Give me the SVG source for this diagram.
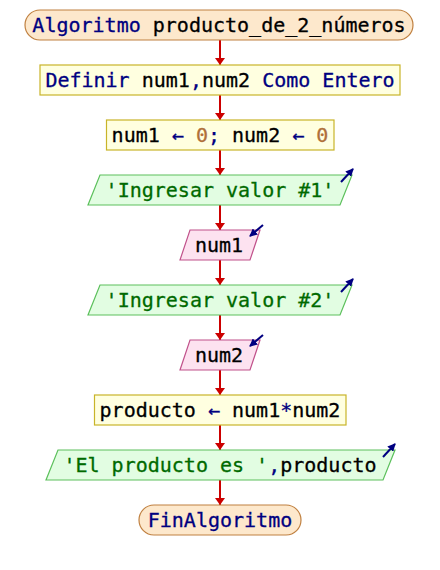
<svg xmlns="http://www.w3.org/2000/svg" width="440" height="570" viewBox="0 0 440 570">
  <defs>
    <marker id="flow" viewBox="0 0 7 10" refX="7" refY="5" markerWidth="7" markerHeight="10" markerUnits="userSpaceOnUse" orient="auto">
      <path d="M0,0 L7,5 L0,10 Z" fill="#cc0000"/>
    </marker>
    <marker id="io" viewBox="0 0 8 8" refX="7" refY="4" markerWidth="8" markerHeight="8" markerUnits="userSpaceOnUse" orient="auto">
      <path d="M0,0 L8,4 L0,8 Z" fill="#000080"/>
    </marker>
    <style>
      .t { font-family: "DejaVu Sans Mono", "Liberation Mono", monospace; font-size: 20px; text-anchor: middle; fill: #000000; stroke: #000000; stroke-width: 0.3; }
      .kw { fill: #000080; stroke: #000080; }
      .str { fill: #006a00; stroke: #006a00; }
      .num { fill: #b0703a; stroke: #b0703a; }
      .term { fill: #fde8cc; stroke: #c08040; stroke-width: 1.2; }
      .proc { fill: #ffffe0; stroke: #c8b428; stroke-width: 1.2; }
      .out { fill: #e2fde2; stroke: #5cc05c; stroke-width: 1.2; }
      .in { fill: #fde2f0; stroke: #c0508a; stroke-width: 1.2; }
      .edge { stroke: #cc0000; stroke-width: 2; fill: none; marker-end: url(#flow); }
      .ioarrow { stroke: #000080; stroke-width: 2; fill: none; marker-end: url(#io); }
    </style>
  </defs>
  <rect width="440" height="570" fill="#ffffff"/>

  <g id="connectors">
    <line class="edge" x1="220" y1="40" x2="220" y2="65"/>
    <line class="edge" x1="220" y1="95" x2="220" y2="120"/>
    <line class="edge" x1="220" y1="150" x2="220" y2="175"/>
    <line class="edge" x1="220" y1="205" x2="220" y2="230"/>
    <line class="edge" x1="220" y1="260" x2="220" y2="285"/>
    <line class="edge" x1="220" y1="315" x2="220" y2="340"/>
    <line class="edge" x1="220" y1="370" x2="220" y2="395"/>
    <line class="edge" x1="220" y1="425" x2="220" y2="450"/>
    <line class="edge" x1="220" y1="480" x2="220" y2="505"/>
  </g>

  <g id="start">
    <rect class="term" x="25" y="10" width="388" height="30" rx="15" ry="15"/>
    <text class="t" x="219" y="32"><tspan class="kw">Algoritmo</tspan> producto_de_2_números</text>
  </g>

  <g id="define">
    <rect class="proc" x="40" y="65" width="360" height="30"/>
    <text class="t" x="220" y="87"><tspan class="kw">Definir</tspan> num1<tspan class="kw">,</tspan>num2 <tspan class="kw">Como Entero</tspan></text>
  </g>

  <g id="init">
    <rect class="proc" x="106.5" y="120" width="227.5" height="30"/>
    <text class="t" x="220" y="142">num1 <tspan class="kw">←</tspan> <tspan class="num">0</tspan><tspan class="kw">;</tspan> num2 <tspan class="kw">←</tspan> <tspan class="num">0</tspan></text>
  </g>

  <g id="prompt1">
    <polygon class="out" points="100,175 352,175 340,205 88,205"/>
    <line class="ioarrow" x1="341" y1="182" x2="353" y2="169"/>
    <text class="t str" x="220" y="197">'Ingresar valor #1'</text>
  </g>

  <g id="read1">
    <polygon class="in" points="190,230 260,230 250,260 180,260"/>
    <line class="ioarrow" x1="263" y1="225" x2="250" y2="236"/>
    <text class="t" x="219" y="252">num1</text>
  </g>

  <g id="prompt2">
    <polygon class="out" points="100,285 352,285 340,315 88,315"/>
    <line class="ioarrow" x1="341" y1="292" x2="353" y2="279"/>
    <text class="t str" x="220" y="307">'Ingresar valor #2'</text>
  </g>

  <g id="read2">
    <polygon class="in" points="190,340 260,340 250,370 180,370"/>
    <line class="ioarrow" x1="263" y1="335" x2="250" y2="346"/>
    <text class="t" x="219" y="362">num2</text>
  </g>

  <g id="compute">
    <rect class="proc" x="94.5" y="395" width="251.5" height="30"/>
    <text class="t" x="220" y="417">producto <tspan class="kw">←</tspan> num1<tspan class="kw">*</tspan>num2</text>
  </g>

  <g id="result">
    <polygon class="out" points="58,450 395,450 383,480 46,480"/>
    <line class="ioarrow" x1="383" y1="457" x2="395" y2="444"/>
    <text class="t" x="220" y="472"><tspan class="str">'El producto es '</tspan><tspan class="kw">,</tspan>producto</text>
  </g>

  <g id="end">
    <rect class="term" x="139" y="505" width="162" height="30" rx="15" ry="15"/>
    <text class="t kw" x="220" y="527">FinAlgoritmo</text>
  </g>
</svg>
